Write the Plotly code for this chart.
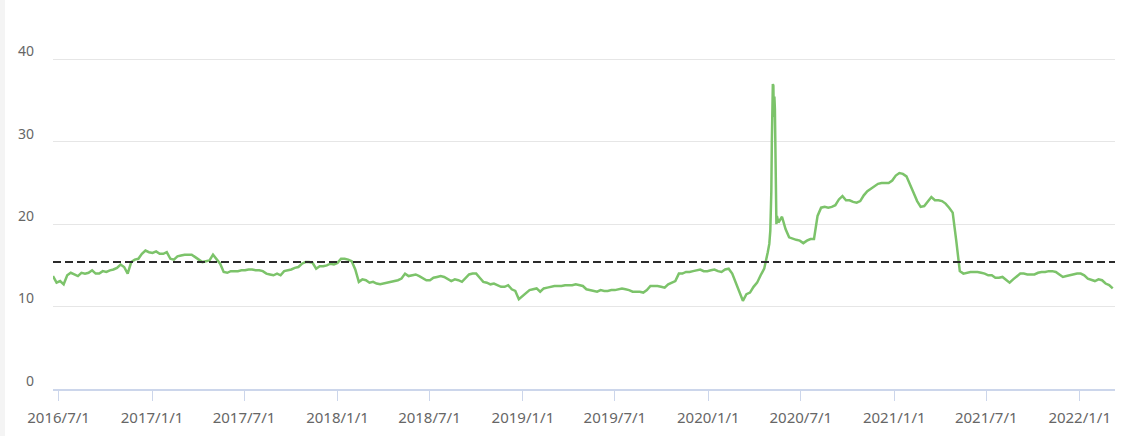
import pandas as pd
import plotly.graph_objects as go

# ---- data ----
start_date = "2016-06-20"
weekly_values = [
    13.7, 12.9, 13.1, 12.7, 13.8, 14.1, 13.9, 13.7, 14.1, 14.0,
    14.1, 14.4, 14.0, 14.0, 14.3, 14.2, 14.4, 14.5, 14.7, 15.1,
    14.8, 14.0, 15.4, 15.7, 15.8, 16.4, 16.8, 16.6, 16.5, 16.7,
    16.4, 16.4, 16.6, 15.8, 15.7, 16.1, 16.2, 16.3, 16.3, 16.3,
    16.0, 15.7, 15.4, 15.5, 15.6, 16.3, 15.7, 15.2, 14.2, 14.1,
    14.3, 14.3, 14.3, 14.4, 14.4, 14.5, 14.5, 14.4, 14.4, 14.3,
    14.0, 13.9, 13.8, 14.0, 13.8, 14.3, 14.4, 14.5, 14.7, 14.8,
    15.2, 15.4, 15.4, 15.3, 14.6, 14.9, 14.9, 15.0, 15.2, 15.1,
    15.3, 15.8, 15.8, 15.7, 15.5, 14.5, 13.0, 13.3, 13.2, 12.9,
    13.0, 12.8, 12.7, 12.8, 12.9, 13.0, 13.1, 13.2, 13.4, 14.0,
    13.7, 13.8, 13.9, 13.7, 13.5, 13.2, 13.2, 13.5, 13.6, 13.7,
    13.6, 13.3, 13.1, 13.3, 13.2, 13.0, 13.5, 13.9, 14.0, 14.0,
    13.5, 13.0, 12.9, 12.7, 12.8, 12.6, 12.4, 12.4, 12.6, 12.1,
    11.9, 10.9, 11.3, 11.7, 12.0, 12.1, 12.2, 11.8, 12.2, 12.3,
    12.4, 12.5, 12.5, 12.5, 12.6, 12.6, 12.6, 12.7, 12.6, 12.5,
    12.1, 12.0, 11.9, 11.8, 12.0, 11.9, 11.9, 12.0, 12.0, 12.1,
    12.2, 12.1, 12.0, 11.8, 11.8, 11.8, 11.7, 12.0, 12.5, 12.5,
    12.5, 12.4, 12.3, 12.7, 12.9, 13.1, 14.0, 14.0, 14.2, 14.2,
    14.3, 14.4, 14.5, 14.3, 14.3, 14.4, 14.5, 14.3, 14.2, 14.5,
    14.6, 14.0, 12.9, 12.0, 10.7, 11.5, 11.7, 12.4, 12.9, 13.8,
    14.6, 16.6, 24.0, 34.0, 20.2, 20.9, 19.4, 18.4, 18.2, 18.1,
    18.0, 17.7, 18.0, 18.2, 18.2, 21.0, 22.0, 22.1, 22.0, 22.1,
    22.3, 23.0, 23.4, 22.9, 22.9, 22.7, 22.6, 22.8, 23.5, 24.0,
    24.3, 24.6, 24.9, 25.0, 25.0, 25.0, 25.3, 25.9, 26.2, 26.1,
    25.8, 24.9, 23.8, 22.8, 22.1, 22.2, 22.7, 23.3, 22.9, 22.9,
    22.8, 22.5, 22.0, 21.4, 18.0, 14.3, 14.0, 14.1, 14.2, 14.2,
    14.2, 14.1, 14.0, 13.8, 13.8, 13.5, 13.5, 13.6, 13.3, 12.9,
    13.3, 13.6, 14.0, 14.0, 13.9, 13.9, 13.9, 14.1, 14.2, 14.2,
    14.3, 14.3, 14.2, 13.9, 13.6, 13.7, 13.8, 13.9, 14.0, 14.0,
    13.8, 13.4, 13.2, 13.1, 13.3, 13.2, 12.8, 12.6, 12.2,
]
spike_dates = ["2020-04-30", "2020-05-02", "2020-05-05", "2020-05-06", "2020-05-07",
               "2020-05-08", "2020-05-09", "2020-05-10", "2020-05-12", "2020-05-13",
               "2020-05-14", "2020-05-15", "2020-05-17"]
spike_values = [17.6, 19.2, 30.0, 34.5, 37.0, 36.8, 33.0, 35.5, 28.0, 22.5, 20.0, 21.0, 20.6]
avg_value = 15.4

y_ticks = [0, 10, 20, 30, 40]
x_tick_dates = ["2016-07-01", "2017-01-01", "2017-07-01", "2018-01-01", "2018-07-01",
                "2019-01-01", "2019-07-01", "2020-01-01", "2020-07-01", "2021-01-01",
                "2021-07-01", "2022-01-01"]
x_tick_labels = ["2016/7/1", "2017/1/1", "2017/7/1", "2018/1/1", "2018/7/1",
                 "2019/1/1", "2019/7/1", "2020/1/1", "2020/7/1", "2021/1/1",
                 "2021/7/1", "2022/1/1"]

weekly_dates = pd.date_range(start_date, periods=len(weekly_values), freq="7D")
series = pd.concat([
    pd.Series(weekly_values, index=weekly_dates),
    pd.Series(spike_values, index=pd.to_datetime(spike_dates)),
]).sort_index()

fig = go.Figure()
fig.add_trace(go.Scatter(
    x=series.index, y=series.values, mode="lines",
    line=dict(color="#7cc36a", width=2.5), showlegend=False,
))

fig.add_shape(type="line", xref="paper", yref="y", x0=0, x1=1,
              y0=avg_value, y1=avg_value, layer="above",
              line=dict(color="#2b2b2b", width=2, dash="8px,4px"))
# light strip at the page's left edge
fig.add_shape(type="rect", xref="paper", yref="paper", x0=-0.05, x1=-0.0452,
              y0=-0.2, y1=1.1, fillcolor="#f4f4f4", line=dict(width=0), layer="below")

fig.update_layout(
    width=1128, height=436,
    margin=dict(l=53, r=13, t=0, b=47),
    paper_bgcolor="white", plot_bgcolor="white",
    font=dict(family="Noto Sans", size=14, color="#666666"),
)
fig.update_xaxes(
    range=["2016-06-20", "2022-03-11 12:00"],
    tickvals=x_tick_dates, ticktext=x_tick_labels,
    showgrid=False, showline=True, linecolor="#ccd6eb", linewidth=2,
    ticks="outside", ticklen=10, tickcolor="#ccd6eb", tickwidth=1,
    ticklabelstandoff=4, automargin=False,
    tickfont=dict(size=15, color="#666666"),
)
fig.update_yaxes(
    range=[0, 47.2], tickvals=y_ticks, showgrid=True, gridcolor="#e6e6e6",
    gridwidth=1, zeroline=False, showline=False,
    ticklabelstandoff=18, ticklabelshift=-8, automargin=False,
    tickfont=dict(size=14, color="#666666"),
)

fig.write_html("out.html", config={"displayModeBar": False},
               post_script="document.body.style.margin='0';")
